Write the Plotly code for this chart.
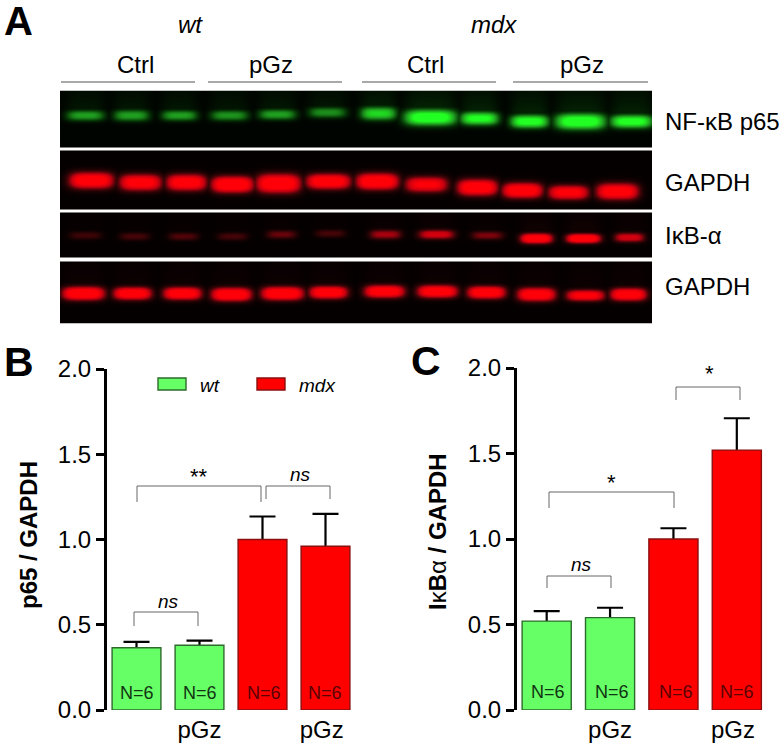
import numpy as np
import plotly.graph_objects as go

W, H = 784, 745

# ---------- chart data ----------
tick_vals_y = [0.0, 0.5, 1.0, 1.5, 2.0]
tick_text_y = ["0.0", "0.5", "1.0", "1.5", "2.0"]
bar_groups = ["wt", "wt pGz", "mdx", "mdx pGz"]
p65_means = [0.365, 0.38, 1.00, 0.96]
p65_tops = [0.40, 0.407, 1.135, 1.15]
ikb_means = [0.52, 0.54, 1.00, 1.52]
ikb_tops = [0.578, 0.598, 1.063, 1.706]

# ---------- blot band readings, one value per lane (12 lanes) ----------
p65_x = [85, 131, 179, 229, 277, 327, 378, 430, 479, 529, 580, 631]
p65_y = [115, 115, 115, 115, 114, 112, 113, 117, 118, 121, 121, 121]
p65_hw = [19, 18, 18, 19, 19, 19, 18, 26, 19, 19, 25, 21]
p65_ht = [5.2, 5.6, 5.2, 5.2, 5.2, 5.2, 6.5, 7.8, 6.5, 6.5, 7.8, 6.5]
p65_i = [.52, .52, .52, .48, .52, .46, .72, 1, .88, .92, 1, .92]

g1_x = [91, 140, 186, 232, 278, 328, 377, 426, 477, 522, 568, 617]
g1_y = [180, 182, 182, 184, 183, 181, 181, 184, 187, 190, 192, 191]
g1_hw = [22, 21, 20, 21, 22, 22, 21, 21, 20, 20, 20, 21]
g1_ht = [8, 8, 8, 8, 9.2, 7.5, 8, 7.5, 8, 7.5, 7, 8]
g1_i = [.95, .9, .92, 1, 1, .95, 1, .82, .96, .96, .86, .92]

ikb_x = [85, 134, 183, 232, 281, 330, 385, 436, 487, 536, 583, 629]
ikb_y = [235, 236, 236, 236, 234, 233, 234, 234, 235, 238, 238, 237]
ikb_hw = [16, 15, 15, 15, 15, 15, 16, 18, 16, 16, 17, 15]
ikb_ht = [3.8, 3.8, 3.8, 3.8, 4.1, 3.8, 4.6, 4.6, 4.1, 5, 4.6, 4.6]
ikb_i = [.2, .22, .25, .22, .3, .22, .45, .6, .35, .95, 1, .6]

g2_x = [83, 132, 182, 231, 282, 328, 384, 437, 486, 536, 585, 628]
g2_y = [293, 293, 293, 294, 293, 292, 291, 291, 292, 294, 295, 294]
g2_hw = [21, 19, 19, 20, 21, 19, 20, 20, 19, 19, 19, 18]
g2_ht = [6.6, 6.2, 6.2, 6.6, 6.6, 6.2, 6.2, 6.2, 6.2, 6.6, 5.4, 6.2]
g2_i = [1, .95, .95, 1, 1, .95, .95, .95, .95, .95, .85, .95]

FONT = "Liberation Sans"
GREEN, RED = "#66ff66", "#ff0000"
GREEN_EDGE, RED_EDGE = "#2c6b2c", "#8a0f0f"


def px(x):
    return x / W


def py(y):
    return 1 - y / H


def band_image(xs, ys, hw, ht, amp, top, bottom, smear=0.0):
    gx = np.arange(60, 652)
    gy = np.arange(top, bottom + 1)
    X, Y = np.meshgrid(gx, gy)
    z = np.zeros_like(X, dtype=float)
    for cx, cy, a, b, i in zip(xs, ys, hw, ht, amp):
        prof_x = np.exp(-np.abs((X - cx) / a) ** 4)
        z = np.maximum(z, i * prof_x * np.exp(-np.abs((Y - cy) / b) ** 2.4))
        if smear:
            z = np.maximum(z, smear * i * prof_x * (Y < cy) * np.exp(-(cy - Y) / 22.0))
    return gx, gy, z


fig = go.Figure()

scale_green = [[0, "#000400"], [.2, "#063a06"], [.5, "#1f9a1f"], [.85, "#22ff22"], [1, "#22ff22"]]
scale_red = [[0, "#050000"], [.2, "#3d0407"], [.5, "#c00010"], [.8, "#ff0008"], [1, "#ff0008"]]
rows = [
    (p65_x, p65_y, p65_hw, p65_ht, p65_i, 91, 147, scale_green, .18),
    (g1_x, g1_y, g1_hw, g1_ht, g1_i, 151, 209, scale_red, 0),
    (ikb_x, ikb_y, ikb_hw, ikb_ht, ikb_i, 213, 257, scale_red, 0.06),
    (g2_x, g2_y, g2_hw, g2_ht, g2_i, 262, 323, scale_red, 0.05),
]
for xs, ys, hw, ht, amp, top, bottom, cs, sm in rows:
    gx, gy, z = band_image(xs, ys, hw, ht, amp, top, bottom, sm)
    fig.add_trace(go.Heatmap(x=gx, y=gy, z=z, zmin=0, zmax=1, colorscale=cs,
                             showscale=False, xaxis="x3", yaxis="y3", hoverinfo="skip"))


def add_bars(means, tops, xa, ya):
    idx = list(range(len(means)))
    err = [t - m for t, m in zip(tops, means)]
    # error bars first, so that the solid bars cover their lower cap
    fig.add_trace(go.Bar(
        x=idx, y=means, width=0.775, xaxis=xa, yaxis=ya,
        marker=dict(color="rgba(0,0,0,0)", line=dict(width=0)),
        error_y=dict(type="data", symmetric=False, array=err, arrayminus=[0.03] * 4,
                     color="#000000", thickness=2.2, width=13),
        showlegend=False))
    fig.add_trace(go.Bar(
        x=idx, y=means, width=0.775, customdata=bar_groups, xaxis=xa, yaxis=ya,
        marker=dict(color=[GREEN, GREEN, RED, RED],
                    line=dict(color=[GREEN_EDGE, GREEN_EDGE, RED_EDGE, RED_EDGE], width=1.4)),
        showlegend=False))


add_bars(p65_means, p65_tops, "x", "y")
add_bars(ikb_means, ikb_tops, "x2", "y2")

ann = []


def text(x, y, s, size, color="#000", rot=0):
    ann.append(dict(x=px(x), y=py(y), xref="paper", yref="paper", text=s, showarrow=False,
                    xanchor="center", yanchor="middle", textangle=rot,
                    font=dict(family=FONT, size=size, color=color)))


# panel letters
text(18, 21, "<b>A</b>", 40)
text(19, 362, "<b>B</b>", 41)
text(426, 361, "<b>C</b>", 41)
# blot header
text(190, 25, "<i>wt</i>", 24)
text(494, 25, "<i>mdx</i>", 24)
for cx, s in zip([135, 271, 425, 582], ["Ctrl", "pGz", "Ctrl", "pGz"]):
    text(cx, 65, s, 24)
# blot right labels
text(722, 122, "NF-κB p65", 24)
text(707, 182, "GAPDH", 24)
text(693, 235, "IκB-α", 24)
text(707, 286, "GAPDH", 24)
# y titles
text(28, 535, "<b>p65 / GAPDH</b>", 24, rot=-90)
text(437, 532, "<b>I</b>κ<b>B</b>α<b> / GAPDH</b>", 24, rot=-90)
# legend
text(210, 385, "<i>wt</i>", 19)
text(317, 385, "<i>mdx</i>", 19)
# N labels
for cx, c in zip([137, 200, 264, 325], ["#123312", "#123312", "#5a0303", "#5a0303"]):
    text(cx, 693, "N=6", 18, c)
for cx, c in zip([548, 612, 676, 737], ["#123312", "#123312", "#5a0303", "#5a0303"]):
    text(cx, 692, "N=6", 18, c)
# significance
text(168, 601, "<i>ns</i>", 19)
text(199, 476, "**", 22)
text(300, 474, "<i>ns</i>", 19)
text(581, 564, "<i>ns</i>", 19)
text(611, 482, "*", 22)
text(709, 373, "*", 22)

shapes = []


def hline(x0, x1, y, color="#8c8c8c", width=1.5):
    shapes.append(dict(type="line", xref="paper", yref="paper", x0=px(x0), x1=px(x1),
                       y0=py(y), y1=py(y), line=dict(color=color, width=width)))


def bracket(x0, x1, top, b0, b1):
    p = f"M {px(x0)} {py(b0)} L {px(x0)} {py(top)} L {px(x1)} {py(top)} L {px(x1)} {py(b1)}"
    shapes.append(dict(type="path", xref="paper", yref="paper", path=p,
                       line=dict(color="#666666", width=1)))


def swatch(x0, x1, y0, y1, fill, edge):
    shapes.append(dict(type="rect", xref="paper", yref="paper", x0=px(x0), x1=px(x1),
                       y0=py(y1), y1=py(y0), fillcolor=fill, line=dict(color=edge, width=1.4)))


for a, b in [(61, 195), (208, 342), (362, 496), (513, 648)]:
    hline(a, b, 82)
bracket(134, 198, 612, 626, 626)
bracket(137, 261, 486, 502, 502)
bracket(266, 330, 486, 499, 499)
bracket(547, 611, 576, 588, 588)
bracket(549, 674, 492, 508, 508)
bracket(676, 740, 387, 400, 400)
swatch(158, 186, 378, 390, GREEN, GREEN_EDGE)
swatch(257, 285, 378, 390, RED, RED_EDGE)

yaxis_common = dict(range=[0, 2], tickvals=tick_vals_y, ticktext=tick_text_y, ticks="outside",
                    ticklen=8, tickwidth=2.5, tickcolor="#000", showline=True, linecolor="#000",
                    linewidth=3, showgrid=False, zeroline=False,
                    tickfont=dict(family=FONT, size=24, color="#000"))
xaxis_common = dict(range=[-0.5, 3.5], showgrid=False, zeroline=False, showline=False,
                    ticks="", ticklabelstandoff=3,
                    tickfont=dict(family=FONT, size=24, color="#000"))

fig.update_layout(
    width=W, height=H, margin=dict(l=0, r=0, t=0, b=0, autoexpand=False), autosize=False,
    paper_bgcolor="#fff", plot_bgcolor="rgba(0,0,0,0)", showlegend=False, hovermode=False,
    barmode="overlay", annotations=ann, shapes=shapes,
    xaxis=dict(domain=[px(105), px(357)], anchor="y", tickvals=[1, 2.94],
               ticktext=["pGz", "pGz"], **xaxis_common),
    yaxis=dict(domain=[py(710), py(369)], anchor="free", position=px(105), **yaxis_common),
    xaxis2=dict(domain=[px(515), px(768.5)], anchor="y2", tickvals=[1, 2.94],
                ticktext=["pGz", "pGz"], **xaxis_common),
    yaxis2=dict(domain=[py(710), py(368)], anchor="free", position=px(515), **yaxis_common),
    xaxis3=dict(domain=[px(60), px(652)], range=[59.5, 651.5], visible=False, anchor="y3"),
    yaxis3=dict(domain=[py(323.5), py(90.5)], range=[323.5, 90.5], visible=False, anchor="x3"),
)
fig.write_html("out.html", post_script="document.body.style.margin='0';",
               config=dict(displayModeBar=False))
